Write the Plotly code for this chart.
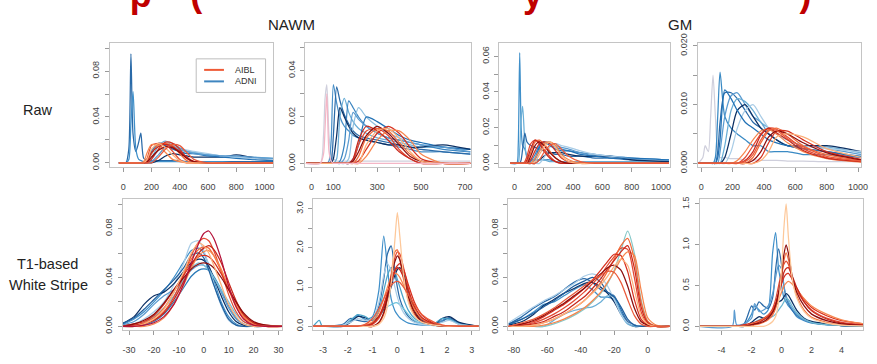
import plotly.graph_objects as go

# ======================= DATA =======================
# ---- Panel 1: Raw / NAWM (left) ----
P1_X = [-30, 0, 20, 40, 55, 70, 90, 110, 125, 145, 170, 200, 250, 300, 350, 400, 450, 500, 600, 700, 800, 900, 1060]
P1_AIBL = [
    [0, 0, 0, 0, 0, 0, 0, 0, 0, 0, .004, .015, .017, .016, .010, .003, 0, 0, 0, 0, 0, 0, 0],
    [0, 0, 0, 0, 0, 0, 0, 0, 0, 0, .001, .008, .016, .017, .015, .008, .002, 0, 0, 0, 0, 0, 0],
    [0, 0, 0, 0, 0, 0, 0, 0, 0, 0, 0, .003, .012, .018, .017, .012, .004, .001, 0, 0, 0, 0, 0],
    [0, 0, 0, 0, 0, 0, 0, 0, 0, .001, .009, .016, .015, .009, .003, .001, 0, 0, 0, 0, 0, 0, 0],
    [0, 0, 0, 0, 0, 0, 0, 0, 0, 0, .002, .009, .014, .016, .014, .010, .005, .001, 0, 0, 0, 0, 0],
    [0, 0, 0, 0, 0, 0, 0, 0, 0, 0, .001, .005, .011, .014, .013, .009, .004, .001, 0, 0, 0, 0, 0],
    [0, 0, 0, 0, 0, 0, 0, 0, 0, 0, .003, .012, .017, .013, .007, .002, 0, 0, 0, 0, 0, 0, 0],
    [0, 0, 0, 0, 0, 0, 0, 0, 0, 0, 0, 0, .005, .012, .016, .015, .009, .003, 0, 0, 0, 0, 0],
]
P1_ADNI = [
    [0, 0, 0, .012, .095, .025, .010, .018, .026, .004, .002, .002, .002, .002, .002, .002, .001, .001, .001, .001, .001, .001, .001],
    [0, 0, 0, .003, .035, .062, .012, .003, .002, .001, .001, .001, .001, .001, .001, .001, .001, .001, .001, .001, 0, 0, 0],
    [0, 0, 0, 0, 0, 0, 0, 0, 0, 0, .002, .010, .017, .016, .013, .011, .010, .009, .007, .006, .005, .004, .003],
    [0, 0, 0, 0, 0, 0, 0, 0, 0, 0, 0, .004, .015, .019, .015, .012, .010, .009, .007, .006, .005, .005, .004],
    [0, 0, 0, 0, 0, 0, 0, 0, 0, 0, 0, 0, .002, .006, .008, .007, .006, .005, .005, .005, .007, .005, .002],
    [0, 0, 0, 0, 0, 0, 0, 0, 0, 0, .001, .008, .016, .015, .012, .010, .008, .008, .006, .005, .004, .003, .002],
    [0, 0, 0, 0, 0, 0, 0, 0, 0, 0, 0, .003, .011, .018, .017, .013, .011, .010, .008, .006, .005, .004, .003],
    [0, 0, 0, 0, 0, 0, 0, 0, 0, 0, 0, .001, .007, .014, .016, .013, .010, .008, .007, .006, .006, .005, .004],
]

# ---- Panel 2: Raw / NAWM (right) ----
P2_X = [-25, 40, 55, 62, 70, 80, 90, 100, 115, 130, 150, 170, 190, 215, 250, 300, 350, 400, 450, 500, 600, 725]
P2_AIBL = [
    [0, 0, 0, 0, 0, 0, 0, 0, 0, 0, 0, 0, .001, .008, .014, .015, .012, .006, .002, 0, 0, 0],
    [0, 0, 0, 0, 0, 0, 0, 0, 0, 0, 0, 0, 0, .003, .011, .015, .014, .009, .004, .001, 0, 0],
    [0, 0, 0, 0, 0, 0, 0, 0, 0, 0, 0, 0, 0, .001, .006, .013, .016, .013, .007, .002, 0, 0],
    [0, 0, 0, 0, 0, 0, 0, 0, 0, 0, 0, 0, 0, 0, .003, .010, .014, .014, .010, .004, 0, 0],
    [0, 0, 0, 0, 0, 0, 0, 0, 0, 0, 0, 0, .002, .010, .016, .014, .010, .005, .002, 0, 0, 0],
    [0, 0, 0, 0, 0, 0, 0, 0, 0, 0, 0, 0, .001, .005, .012, .016, .013, .008, .003, .001, 0, 0],
    [0, 0, 0, 0, 0, 0, 0, 0, 0, 0, 0, 0, 0, 0, .008, .014, .015, .011, .005, .001, 0, 0],
    [0, 0, .004, .015, .030, .005, .001, 0, 0, 0, 0, 0, 0, 0, 0, 0, 0, 0, 0, 0, 0, 0],
]
P2_ADNI = [
    [0, 0, .012, .028, .034, .012, .004, .002, .001, .001, .001, .001, .001, .001, .001, .001, .001, .001, .001, .001, .001, .001],
    [0, 0, 0, 0, 0, .001, .010, .034, .026, .020, .016, .014, .012, .011, .010, .009, .008, .007, .006, .005, .005, .004],
    [0, 0, 0, 0, 0, 0, .001, .012, .033, .027, .021, .017, .014, .012, .011, .010, .009, .008, .007, .006, .005, .004],
    [0, 0, 0, 0, 0, 0, 0, 0, .002, .020, .028, .022, .018, .015, .013, .011, .010, .009, .008, .007, .007, .006],
    [0, 0, 0, 0, 0, 0, 0, 0, 0, .001, .008, .027, .024, .020, .016, .013, .011, .010, .009, .008, .006, .005],
    [0, 0, 0, 0, 0, 0, 0, 0, 0, 0, 0, .002, .016, .024, .020, .016, .013, .011, .009, .008, .007, .006],
    [0, 0, 0, 0, 0, 0, 0, 0, 0, 0, 0, 0, .002, .008, .020, .018, .015, .012, .010, .009, .007, .006],
    [0, 0, 0, 0, 0, 0, 0, .002, .012, .024, .020, .016, .013, .011, .010, .009, .008, .008, .007, .007, .008, .006],
    [0, 0, 0, 0, 0, 0, 0, 0, 0, 0, .002, .010, .022, .019, .016, .013, .011, .010, .009, .008, .007, .005],
]

# ---- Panel 3: Raw / GM (left) ----
P3_X = [-30, 15, 25, 35, 45, 55, 70, 85, 110, 140, 170, 200, 240, 280, 320, 370, 450, 550, 650, 800, 1055]
P3_AIBL = [
    [0, 0, 0, 0, 0, 0, .001, .004, .011, .013, .012, .008, .004, .001, 0, 0, 0, 0, 0, 0, 0],
    [0, 0, 0, 0, 0, 0, 0, .001, .006, .012, .013, .011, .007, .003, .001, 0, 0, 0, 0, 0, 0],
    [0, 0, 0, 0, 0, 0, 0, 0, .002, .007, .011, .012, .011, .007, .003, .001, 0, 0, 0, 0, 0],
    [0, 0, 0, 0, 0, 0, 0, 0, 0, .003, .007, .011, .012, .010, .005, .002, 0, 0, 0, 0, 0],
    [0, 0, 0, 0, 0, 0, 0, .002, .008, .013, .011, .007, .003, .001, 0, 0, 0, 0, 0, 0, 0],
    [0, 0, 0, 0, 0, 0, 0, 0, .004, .010, .012, .010, .006, .003, .001, 0, 0, 0, 0, 0, 0],
    [0, 0, 0, 0, 0, 0, 0, 0, 0, .001, .005, .009, .012, .009, .004, .001, 0, 0, 0, 0, 0],
    [0, 0, 0, 0, 0, 0, 0, 0, 0, 0, .002, .006, .010, .011, .008, .004, .001, 0, 0, 0, 0],
]
P3_ADNI = [
    [0, 0, .010, .062, .020, .010, .008, .004, .002, .002, .002, .002, .002, .001, .001, .001, .001, .001, .001, .001, .001],
    [0, 0, 0, .008, .025, .032, .012, .003, .002, .002, .002, .002, .001, .001, .001, .001, .001, .001, .001, .001, .001],
    [0, 0, 0, 0, .002, .008, .017, .012, .010, .009, .008, .007, .006, .005, .005, .004, .004, .003, .003, .002, .002],
    [0, 0, 0, 0, 0, 0, 0, 0, .001, .005, .010, .012, .011, .009, .008, .007, .006, .005, .004, .003, .002],
    [0, 0, 0, 0, 0, 0, 0, 0, 0, .002, .007, .011, .012, .010, .009, .008, .006, .004, .004, .003, .002],
    [0, 0, 0, 0, 0, 0, 0, 0, 0, 0, .002, .004, .006, .006, .006, .005, .004, .004, .004, .002, .001],
    [0, 0, 0, 0, 0, 0, 0, 0, 0, 0, 0, .003, .009, .011, .010, .009, .007, .005, .004, .003, .002],
    [0, 0, 0, 0, 0, 0, 0, 0, 0, .003, .009, .012, .010, .008, .007, .007, .005, .004, .003, .003, .002],
]

# ---- Panel 4: Raw / GM (right) ----
P4_X = [-20, 10, 25, 45, 60, 75, 90, 105, 120, 150, 190, 230, 280, 330, 380, 430, 480, 550, 650, 800, 1020]
P4_AIBL = [
    [0, 0, 0, 0, 0, 0, 0, 0, 0, 0, 0, 0, .001, .003, .005, .006, .0058, .0045, .0025, .001, .0003],
    [0, 0, 0, 0, 0, 0, 0, 0, 0, 0, 0, 0, 0, .001, .0035, .0055, .006, .005, .003, .0015, .0005],
    [0, 0, 0, 0, 0, 0, 0, 0, 0, 0, 0, 0, 0, 0, .001, .0035, .0055, .0055, .004, .002, .0007],
    [0, 0, 0, 0, 0, 0, 0, 0, 0, 0, 0, .0005, .002, .004, .0055, .0058, .005, .0035, .002, .0008, .0002],
    [0, 0, 0, 0, 0, 0, 0, 0, 0, 0, 0, 0, .0005, .002, .0048, .006, .0052, .004, .0022, .0009, .0003],
    [0, 0, 0, 0, 0, 0, 0, 0, 0, 0, 0, 0, 0, .0005, .002, .0045, .0055, .005, .0035, .0018, .0006],
    [0, 0, 0, 0, 0, 0, 0, 0, 0, 0, 0, 0, 0, 0, .0005, .002, .0045, .005, .0045, .0025, .001],
    [0, 0, 0, 0, 0, 0, 0, 0, 0, 0, 0, 0, .0003, .0015, .004, .0057, .0056, .0042, .0028, .0012, .0004],
]
P4_ADNI = [
    [0, .001, .003, .002, .008, .015, .008, .002, .001, .001, .0008, .0008, .0006, .0006, .0005, .0005, .0005, .0004, .0004, .0003, .0003],
    [0, 0, 0, 0, 0, 0, .001, .008, .0155, .008, .006, .005, .004, .003, .003, .002, .002, .002, .0015, .0015, .001],
    [0, 0, 0, 0, 0, 0, 0, .002, .007, .012, .012, .011, .009, .007, .006, .005, .004, .003, .0025, .002, .001],
    [0, 0, 0, 0, 0, 0, 0, 0, .002, .008, .0115, .012, .010, .008, .007, .005, .004, .003, .003, .0025, .0015],
    [0, 0, 0, 0, 0, 0, 0, 0, 0, .003, .009, .011, .0105, .009, .007, .006, .005, .004, .003, .0028, .0018],
    [0, 0, 0, 0, 0, 0, 0, 0, 0, .001, .005, .009, .010, .008, .006, .005, .004, .003, .003, .003, .002],
    [0, 0, 0, 0, 0, 0, 0, 0, 0, 0, .002, .006, .009, .010, .008, .006, .005, .004, .003, .0025, .002],
    [0, 0, 0, 0, 0, 0, 0, .001, .004, .0125, .011, .009, .007, .006, .005, .004, .0035, .003, .0025, .002, .0012],
]

# ---- Panel 5: T1-based White Stripe / NAWM (left) ----
P5_X = [-33, -28, -24, -20, -16, -12, -8, -5, -2, 0, 2, 4, 7, 10, 13, 16, 20, 25, 32]
P5_AIBL = [
    [0, 0, .002, .005, .012, .024, .042, .058, .069, .072, .070, .062, .045, .026, .012, .004, .001, 0, 0],
    [0, .001, .003, .007, .015, .028, .043, .055, .063, .065, .064, .058, .045, .030, .016, .007, .002, 0, 0],
    [0, .002, .004, .009, .018, .030, .042, .051, .057, .058, .057, .053, .043, .031, .019, .009, .003, .001, 0],
    [0, 0, 0, .002, .007, .018, .034, .048, .058, .061, .062, .058, .047, .032, .018, .008, .002, 0, 0],
    [0, .001, .002, .005, .011, .022, .037, .050, .060, .064, .066, .063, .052, .036, .021, .010, .003, 0, 0],
    [0, .002, .005, .010, .019, .030, .040, .047, .051, .052, .051, .048, .040, .030, .020, .011, .004, .001, 0],
    [0, 0, .002, .006, .014, .028, .045, .060, .068, .066, .060, .050, .034, .018, .008, .002, 0, 0, 0],
    [0, 0, .001, .003, .008, .018, .035, .052, .068, .076, .078, .072, .055, .033, .016, .006, .001, 0, 0],
]
P5_ADNI = [
    [0, 0, .001, .004, .010, .020, .032, .041, .046, .047, .046, .041, .030, .017, .007, .002, 0, 0, 0],
    [.001, .006, .012, .020, .029, .040, .053, .062, .064, .060, .050, .038, .020, .008, .002, 0, 0, 0, 0],
    [0, .002, .006, .012, .020, .034, .052, .068, .070, .062, .050, .035, .017, .005, .001, 0, 0, 0, 0],
    [.002, .008, .018, .025, .028, .035, .045, .052, .055, .054, .049, .040, .025, .012, .004, .001, 0, 0, 0],
    [.001, .004, .010, .018, .025, .030, .038, .046, .050, .050, .047, .040, .028, .015, .006, .002, 0, 0, 0],
    [0, 0, .003, .008, .015, .025, .038, .048, .052, .050, .046, .040, .030, .020, .010, .004, .001, 0, 0],
    [.002, .007, .014, .022, .030, .038, .048, .058, .060, .056, .046, .034, .018, .006, .001, 0, 0, 0, 0],
]

# ---- Panel 6: T1-based White Stripe / NAWM (right) ----
P6_X = [-3.4, -3.15, -3.05, -2.9, -2.2, -1.9, -1.6, -1.3, -1.0, -0.75, -0.55, -0.4, -0.25, -0.1, 0.0, 0.1, 0.25, 0.45, 0.7, 1.0, 1.5, 1.8, 2.1, 2.5, 3.3]
P6_AIBL = [
    [0, 0, 0, 0, 0, 0, 0, .01, .05, .2, .5, .85, 1.3, 1.75, 1.9, 1.85, 1.5, .95, .45, .18, .04, .01, 0, 0, 0],
    [0, 0, 0, 0, 0, 0, 0, 0, 0, .08, .3, .7, 1.3, 1.9, 1.95, 1.7, 1.2, .65, .3, .12, .03, 0, 0, 0, 0],
    [0, 0, 0, 0, 0, 0, 0, 0, .07, .25, .55, .85, 1.15, 1.45, 1.55, 1.6, 1.45, 1.05, .6, .28, .07, .02, 0, 0, 0],
    [0, 0, 0, 0, 0, 0, 0, .03, .12, .35, .7, 1.0, 1.25, 1.35, 1.33, 1.25, 1.05, .75, .42, .2, .06, .02, 0, 0, 0],
    [0, 0, 0, 0, 0, 0, 0, .02, .08, .25, .5, .8, 1.1, 1.4, 1.5, 1.45, 1.25, .9, .5, .22, .06, .02, 0, 0, 0],
    [0, 0, 0, 0, 0, 0, 0, 0, 0, .1, .35, .75, 1.25, 1.65, 1.8, 1.7, 1.3, .75, .35, .12, .03, 0, 0, 0, 0],
    [0, 0, 0, 0, 0, 0, 0, 0, 0, .05, .2, .5, 1.1, 2.2, 2.9, 2.3, 1.3, .6, .25, .1, .03, .01, 0, 0, 0],
    [0, 0, 0, 0, 0, 0, 0, .05, .2, .45, .7, .9, 1.05, 1.13, 1.15, 1.12, 1.0, .8, .55, .3, .1, .04, .01, 0, 0],
]
P6_ADNI = [
    [0, 0, 0, 0, .02, .12, .28, .18, .25, .9, 2.3, 1.5, .7, .4, .3, .22, .15, .08, .05, .03, .05, .15, .2, .05, 0],
    [0, 0, 0, 0, .05, .2, .15, .12, .2, .5, 1.2, 1.85, 2.05, 1.4, 1.0, .7, .45, .25, .12, .07, .05, .12, .22, .08, 0],
    [0, 0, 0, 0, 0, 0, 0, .02, .1, .25, .4, .5, .55, .6, .6, .55, .45, .3, .15, .06, .02, 0, 0, 0, 0],
    [0, 0, 0, 0, 0, .1, .25, .22, .15, .25, .45, .7, 1.0, 1.3, 1.45, 1.5, 1.35, .9, .4, .15, .06, .2, .25, .1, 0],
    [0, .15, .02, 0, .01, .15, .3, .25, .15, .4, .9, 1.3, 1.5, 1.4, 1.2, 1.0, .7, .4, .2, .1, .08, .2, .18, .06, 0],
    [0, 0, 0, 0, .03, .1, .2, .15, .2, .6, 1.3, 1.6, 1.4, 1.0, .75, .55, .35, .2, .1, .05, .04, .1, .15, .05, 0],
]

# ---- Panel 7: T1-based White Stripe / GM (left) ----
P7_X = [-83, -75, -68, -62, -56, -50, -44, -38, -33, -28, -24, -20, -16, -12, -8, -4, 0, 5, 13]
P7_AIBL = [
    [0, .001, .003, .006, .010, .015, .021, .028, .035, .042, .050, .057, .064, .063, .040, .012, .002, 0, 0],
    [0, 0, .001, .003, .006, .010, .015, .021, .028, .036, .045, .055, .066, .072, .055, .020, .004, 0, 0],
    [0, .002, .004, .008, .013, .018, .024, .031, .038, .046, .053, .059, .058, .045, .022, .006, .001, 0, 0],
    [0, 0, 0, .001, .003, .006, .010, .015, .021, .028, .036, .045, .055, .061, .058, .030, .007, .001, 0],
    [0, .001, .002, .004, .008, .012, .018, .024, .031, .039, .047, .054, .061, .066, .048, .016, .003, 0, 0],
    [0, .002, .005, .009, .014, .019, .025, .031, .037, .043, .048, .050, .046, .033, .015, .004, .001, 0, 0],
    [0, 0, .001, .003, .006, .010, .015, .021, .027, .034, .041, .049, .055, .050, .030, .009, .002, 0, 0],
    [0, .003, .006, .010, .015, .021, .027, .033, .038, .042, .045, .044, .036, .022, .009, .002, 0, 0, 0],
]
P7_ADNI = [
    [.001, .006, .012, .018, .020, .025, .030, .034, .030, .024, .024, .022, .012, .003, .001, 0, 0, 0, 0],
    [.002, .008, .015, .020, .024, .030, .036, .039, .036, .030, .028, .025, .014, .004, .001, 0, 0, 0, 0],
    [.001, .004, .010, .017, .022, .027, .031, .035, .036, .032, .027, .020, .010, .003, 0, 0, 0, 0, 0],
    [0, 0, 0, 0, .005, .010, .013, .015, .016, .020, .025, .024, .010, .002, 0, 0, 0, 0, 0],
    [.003, .010, .016, .021, .025, .030, .035, .041, .043, .040, .033, .022, .010, .003, .001, 0, 0, 0, 0],
    [.002, .006, .011, .016, .021, .027, .033, .037, .040, .036, .028, .024, .016, .006, .001, 0, 0, 0, 0],
    [0, 0, 0, 0, .002, .005, .009, .014, .020, .027, .035, .046, .062, .078, .060, .022, .004, 0, 0],
]

# ---- Panel 8: T1-based White Stripe / GM (right) ----
P8_X = [-5.5, -3.3, -3.15, -3.0, -2.5, -2.0, -1.8, -1.5, -1.2, -0.9, -0.6, -0.4, -0.2, 0.0, 0.15, 0.3, 0.45, 0.7, 1.0, 1.5, 2.0, 3.0, 4.0, 5.5]
P8_AIBL = [
    [0, 0, 0, 0, .01, .03, .04, .06, .09, .13, .22, .33, .5, .66, .76, .8, .76, .6, .45, .3, .2, .1, .05, .02],
    [0, 0, 0, 0, 0, 0, .02, .03, .05, .08, .14, .22, .38, .6, .8, .9, .82, .58, .38, .2, .11, .05, .02, .01],
    [0, 0, 0, 0, .02, .04, .05, .07, .1, .14, .2, .28, .4, .52, .6, .64, .65, .58, .47, .33, .23, .13, .07, .03],
    [0, 0, 0, 0, 0, .03, .04, .06, .09, .13, .19, .25, .33, .42, .49, .53, .55, .52, .45, .34, .25, .15, .08, .03],
    [0, 0, 0, 0, 0, .02, .03, .05, .08, .12, .18, .26, .4, .55, .66, .71, .72, .62, .48, .3, .19, .09, .04, .015],
    [0, 0, 0, 0, 0, .02, .03, .04, .06, .1, .17, .26, .42, .65, .88, 1.0, .9, .62, .42, .25, .15, .07, .03, .01],
    [0, 0, 0, 0, 0, 0, 0, 0, 0, .02, .06, .12, .3, .7, 1.2, 1.5, 1.1, .6, .35, .18, .1, .04, .015, .005],
]
P8_ADNI = [
    [0, 0, 0, 0, .02, .15, .25, .2, .15, .2, .9, 1.15, .7, .5, .35, .3, .25, .2, .12, .07, .04, .02, .01, 0],
    [0, 0, 0, 0, .03, .25, .2, .3, .25, .22, .35, .7, .95, .75, .5, .35, .28, .2, .14, .08, .05, .02, .01, 0],
    [0, 0, .2, .02, .03, .1, .28, .18, .2, .25, .4, .6, .75, .7, .5, .38, .3, .22, .15, .08, .05, .02, .01, 0],
    [0, 0, 0, 0, 0, .05, .08, .12, .1, .12, .18, .25, .3, .32, .36, .4, .38, .3, .2, .1, .06, .03, .01, 0],
    [0, 0, 0, 0, 0, .02, .05, .08, .1, .1, .12, .15, .2, .25, .3, .34, .33, .25, .17, .09, .05, .02, .01, 0],
]

# ---- tick values / labels ----
P1_XTICKS = [0, 200, 400, 600, 800, 1000]
P1_XLABELS = ["0", "200", "400", "600", "800", "1000"]
P2_XTICKS = [0, 100, 200, 300, 400, 500, 600, 700]
P2_XLABELS = ["0", "100", "", "300", "", "500", "", "700"]
P5_XTICKS = [-30, -20, -10, 0, 10, 20, 30]
P6_XTICKS = [-3, -2, -1, 0, 1, 2, 3]
P7_XTICKS = [-80, -60, -40, -20, 0]
P8_XTICKS = [-4, -2, 0, 2, 4]
Y_TICKS_008 = [0, 0.02, 0.04, 0.06, 0.08, 0.10]
Y_LABELS_008 = ["0.00", "", "0.04", "", "0.08", ""]
P2_YTICKS = [0, 0.01, 0.02, 0.03, 0.04, 0.05]
P2_YLABELS = ["0.00", "", "0.02", "", "0.04", ""]
P3_YTICKS = [0, 0.01, 0.02, 0.03, 0.04, 0.05, 0.06]
P3_YLABELS = ["0.00", "", "0.02", "", "0.04", "", "0.06"]
P4_YTICKS = [0, 0.005, 0.010, 0.015, 0.020]
P4_YLABELS = ["0.000", "", "0.010", "", "0.020"]
P6_YTICKS = [0, 0.5, 1.0, 1.5, 2.0, 2.5, 3.0]
P6_YLABELS = ["0.0", "", "1.0", "", "2.0", "", "3.0"]
P8_YTICKS = [0, 0.5, 1.0, 1.5]
P8_YLABELS = ["0.0", "0.5", "1.0", "1.5"]

GROUPS = ["AIBL", "ADNI"]
ROW_LABELS = ["Raw", "T1-based", "White Stripe"]
COL_LABELS = ["NAWM", "GM"]
TITLE_FRAGMENTS = ["p", "(", "y", ")"]

# ======================= STYLE =======================
RED = ["#e34a33", "#f26b3a", "#d7301f", "#f7864e", "#c8281c", "#8c0d0d", "#fdb07a", "#ea5a3a"]
P1_ADNI_COL = ["#2a6aa8", "#3f8fc9", "#3a84c0", "#6aaed6", "#0b2f63", "#2171b5", "#a9cce6", "#5b9bd0"]
P2_AIBL_COL = RED[:7] + ["#f4b6c6"]
P2_ADNI_COL = ["#cfcfdc", "#4a90c8", "#2a6aa8", "#6aaed6", "#3a84c0", "#8fc0e0", "#2171b5", "#0b2f63", "#5b9bd0"]
P3_ADNI_COL = ["#3f8fc9", "#6aaed6", "#2a6aa8", "#3a84c0", "#5b9bd0", "#0b2f63", "#a9cce6", "#2171b5"]
P4_ADNI_COL = ["#cfcfdc", "#3a8ac4", "#2a6aa8", "#5b9bd0", "#6aaed6", "#0b2f63", "#a9cce6", "#2171b5"]
P5_AIBL_COL = RED[:7] + ["#b5123a"]
P5_ADNI_COL = ["#2a7ab8", "#3f8fc9", "#a9cce6", "#0b2f63", "#5b9bd0", "#7cc0d8", "#1f5f9e"]
P6_AIBL_COL = RED[:6] + ["#fdc89a", "#ea5a3a"]
P6_ADNI_COL = ["#3f8fc9", "#2a6aa8", "#6fc3dc", "#0b2f63", "#4aa3c8", "#a9cce6"]
P7_ADNI_COL = ["#3f8fc9", "#2a6aa8", "#0b2f63", "#6aaed6", "#a9cce6", "#1f5f9e", "#86c8c8"]
P8_AIBL_COL = RED[:6] + ["#fdc89a"]
P8_ADNI_COL = ["#3f8fc9", "#2a6aa8", "#5b9bd0", "#0b2f63", "#6fb8d0"]

W, H = 877, 364
FONT = "Liberation Sans, Arial, Helvetica, sans-serif"

PANELS = [
    dict(x=P1_X, aibl=P1_AIBL, adni=P1_ADNI, rc=RED, bc=P1_ADNI_COL, box=(110, 275, 35, 165),
         xr=(-93, 1063), yr=(-0.0038, 0.1049), xt=P1_XTICKS, xl=P1_XLABELS, yt=Y_TICKS_008, yl=Y_LABELS_008),
    dict(x=P2_X, aibl=P2_AIBL, adni=P2_ADNI, rc=P2_AIBL_COL, bc=P2_ADNI_COL, box=(307, 474, 35, 165),
         xr=(-28.5, 726), yr=(-0.00165, 0.0521), xt=P2_XTICKS, xl=P2_XLABELS, yt=P2_YTICKS, yl=P2_YLABELS),
    dict(x=P3_X, aibl=P3_AIBL, adni=P3_ADNI, rc=RED, bc=P3_ADNI_COL, box=(503, 675, 35, 165),
         xr=(-103.6, 1061), yr=(-0.00215, 0.0677), xt=P1_XTICKS, xl=P1_XLABELS, yt=P3_YTICKS, yl=P3_YLABELS),
    dict(x=P4_X, aibl=P4_AIBL, adni=P4_ADNI, rc=RED, bc=P4_ADNI_COL, box=(703, 868, 35, 165),
         xr=(-23.4, 1019), yr=(-0.00065, 0.02054), xt=P1_XTICKS, xl=P1_XLABELS, yt=P4_YTICKS, yl=P4_YLABELS),
    dict(x=P5_X, aibl=P5_AIBL, adni=P5_ADNI, rc=P5_AIBL_COL, bc=P5_ADNI_COL, box=(123, 284, 198, 335),
         xr=(-32.5, 31.6), yr=(-0.0031, 0.1043), xt=P5_XTICKS, xl=[str(v) for v in P5_XTICKS], yt=Y_TICKS_008, yl=Y_LABELS_008),
    dict(x=P6_X, aibl=P6_AIBL, adni=P6_ADNI, rc=P6_AIBL_COL, bc=P6_ADNI_COL, box=(315, 482, 198, 335),
         xr=(-3.4, 3.28), yr=(-0.098, 3.252), xt=P6_XTICKS, xl=[str(v) for v in P6_XTICKS], yt=P6_YTICKS, yl=P6_YLABELS),
    dict(x=P7_X, aibl=P7_AIBL, adni=P7_ADNI, rc=RED, bc=P7_ADNI_COL, box=(512, 675, 198, 335),
         xr=(-83.2, 13.2), yr=(-0.0031, 0.1043), xt=P7_XTICKS, xl=[str(v) for v in P7_XTICKS], yt=Y_TICKS_008, yl=Y_LABELS_008),
    dict(x=P8_X, aibl=P8_AIBL, adni=P8_ADNI, rc=P8_AIBL_COL, bc=P8_ADNI_COL, box=(705, 870, 198, 335),
         xr=(-5.47, 5.43), yr=(-0.047, 1.563), xt=P8_XTICKS, xl=[str(v) for v in P8_XTICKS], yt=P8_YTICKS, yl=P8_YLABELS),
]

fig = go.Figure()
layout = dict(width=W, height=H, margin=dict(l=0, r=0, t=0, b=0), paper_bgcolor="white",
              plot_bgcolor="rgba(0,0,0,0)", showlegend=False, font=dict(family=FONT, color="#333"))

for i, p in enumerate(PANELS):
    k = "" if i == 0 else str(i + 1)
    xa, ya = "x" + k, "y" + k
    for ys, c in zip(p["adni"], p["bc"]):
        fig.add_trace(go.Scatter(x=p["x"], y=ys, mode="lines", xaxis=xa, yaxis=ya, hoverinfo="skip",
                                 line=dict(color=c, width=1.25, shape="spline", smoothing=0.7)))
    for ys, c in zip(p["aibl"], p["rc"]):
        fig.add_trace(go.Scatter(x=p["x"], y=ys, mode="lines", xaxis=xa, yaxis=ya, hoverinfo="skip",
                                 line=dict(color=c, width=1.25, shape="spline", smoothing=0.7)))
    x0, x1, y0, y1 = p["box"]
    common = dict(showline=True, mirror=True, linecolor="#c4c4c4", linewidth=1, ticks="outside",
                  ticklen=4, tickcolor="#9a9a9a", tickwidth=1, showgrid=False, zeroline=False,
                  tickfont=dict(size=9, color="#444", family=FONT), fixedrange=True)
    layout["xaxis" + k] = dict(domain=[x0 / W, x1 / W], anchor=ya, range=list(p["xr"]),
                               tickmode="array", tickvals=p["xt"], ticktext=p["xl"],
                               ticklabelstandoff=7, **common)
    layout["yaxis" + k] = dict(domain=[1 - y1 / H, 1 - y0 / H], anchor=xa, range=list(p["yr"]),
                               tickmode="array", tickvals=p["yt"], ticktext=p["yl"], tickangle=-90,
                               ticklabelstandoff=2, **common)

# full-figure pixel overlay axes (used for the cut-off slide title glyphs at the top edge)
layout["xaxis9"] = dict(domain=[0, 1], range=[0, W], visible=False, fixedrange=True, anchor="y9")
layout["yaxis9"] = dict(domain=[0, 1], range=[H, 0], visible=False, fixedrange=True, anchor="x9")
# text drawn above its anchor: baseline ~9px above the anchor, so only the descenders show
fig.add_trace(go.Scatter(x=[141, 197, 537, 812], y=[7, 6, 7, 6], text=TITLE_FRAGMENTS,
                         mode="text", textposition="top center", cliponaxis=False,
                         xaxis="x9", yaxis="y9", hoverinfo="skip",
                         textfont=dict(size=36, color="#c00000", family=FONT, weight="bold")))

fig.update_layout(**layout)

ann = []
shapes = []
# legend inside panel 1
shapes.append(dict(type="rect", xref="paper", yref="paper", x0=197 / W, x1=267 / W,
                   y0=1 - 87 / H, y1=1 - 52 / H, line=dict(color="#bdbdbd", width=1), fillcolor="white",
                   layer="below"))
for g, c, yy in zip(GROUPS, ["#ef5a36", "#3f86c0"], [63.5, 75.5]):
    shapes.append(dict(type="line", xref="paper", yref="paper", x0=205 / W, x1=225 / W,
                       y0=1 - yy / H, y1=1 - yy / H, line=dict(color=c, width=2)))
    ann.append(dict(text=g, xref="paper", yref="paper", x=234 / W, y=1 - yy / H, xanchor="left",
                    yanchor="middle", showarrow=False, font=dict(size=9, color="#333", family=FONT)))

# row labels
for t, (xx, yy) in zip(ROW_LABELS, [(37, 105), (47, 266), (48, 288)]):
    ann.append(dict(text=t, xref="paper", yref="paper", x=xx / W, y=1 - yy / H, xanchor="center",
                    yanchor="middle", showarrow=False, font=dict(size=14.5, color="#222", family=FONT)))
# column labels
for t, xx in zip(COL_LABELS, [293, 685]):
    ann.append(dict(text=t, xref="paper", yref="paper", x=xx / W, y=1 - 16 / H, xanchor="center",
                    yanchor="middle", showarrow=False, font=dict(size=15, color="#222", family=FONT)))

fig.update_layout(annotations=ann, shapes=shapes)
fig.write_html("out.html", config={"displayModeBar": False},
               post_script="document.body.style.margin='0px';")
